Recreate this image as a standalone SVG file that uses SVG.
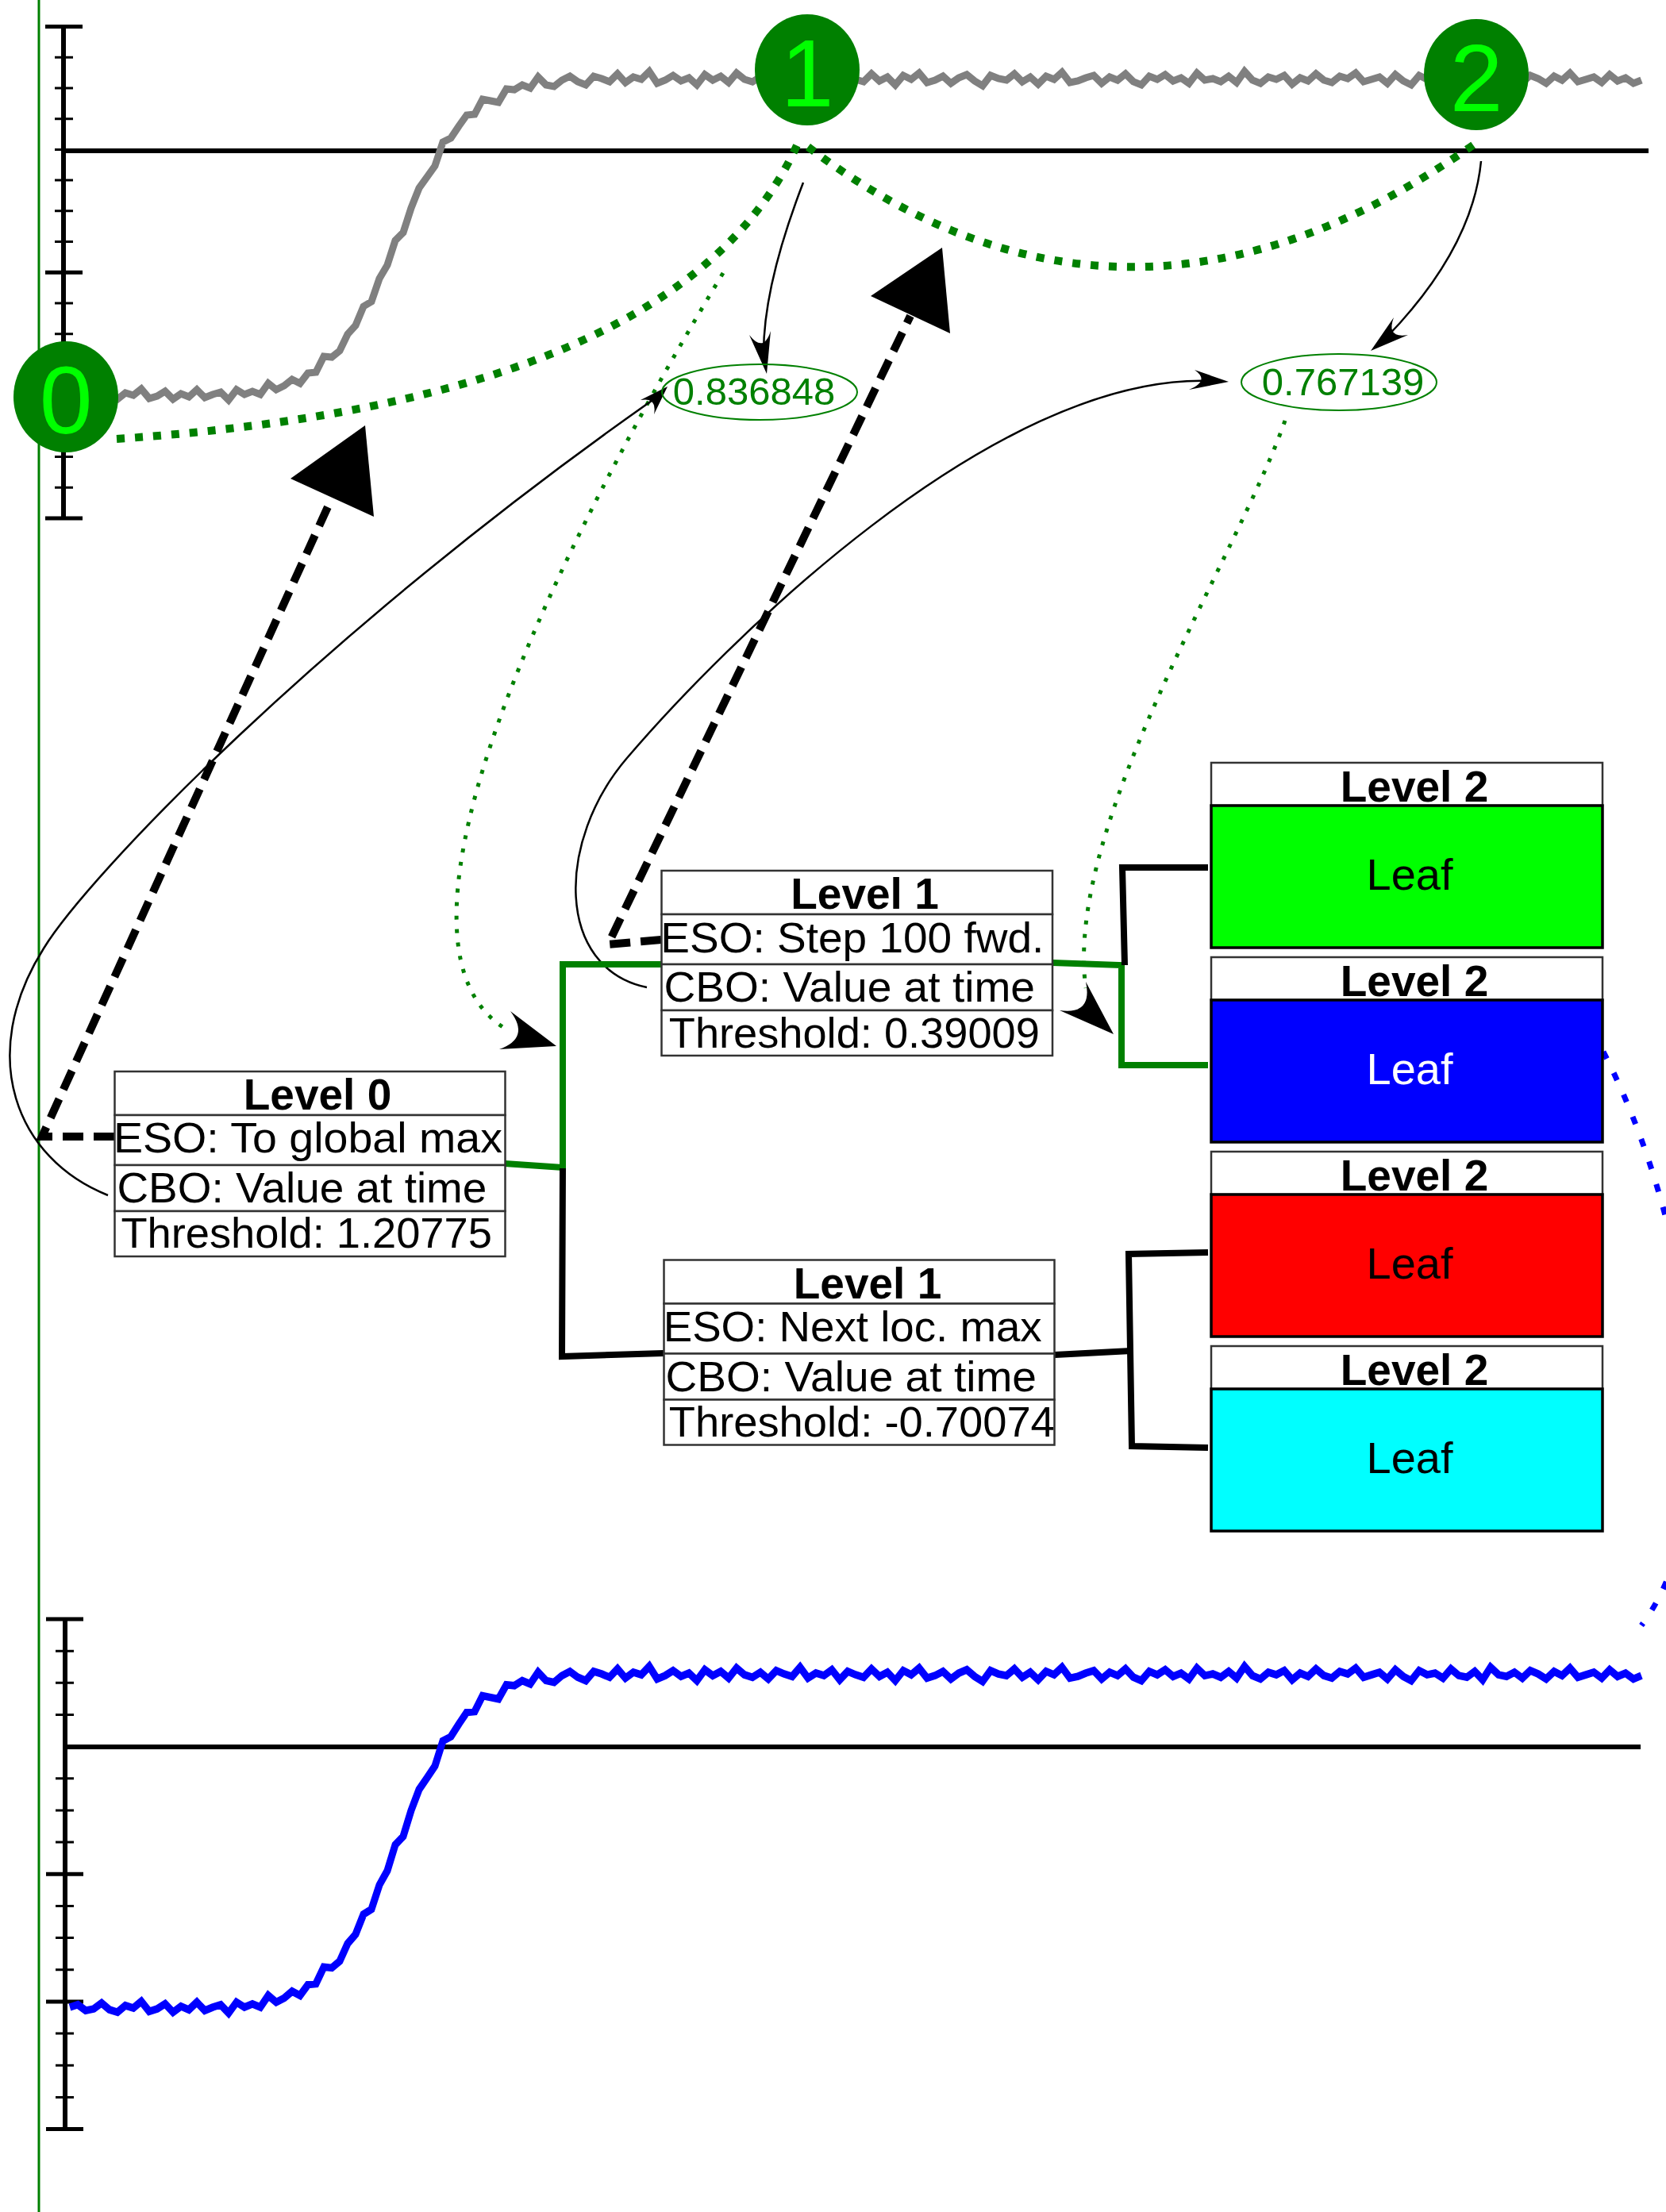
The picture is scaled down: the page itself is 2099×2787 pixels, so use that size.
<svg xmlns="http://www.w3.org/2000/svg" width="2099" height="2787" viewBox="0 0 2099 2787">
<style>
text{font-family:"Liberation Sans",Arial,sans-serif}
.axis{stroke:#000;stroke-width:6;fill:none}
.cap{stroke:#000;stroke-width:5;fill:none}
.tick{stroke:#000;stroke-width:3;fill:none}
.zero{stroke:#000;stroke-width:6}
.sig{fill:none;stroke-width:9}
.num{fill:#008000}
.numt{fill:#00ff00;font-size:120px;text-anchor:middle}
.val{fill:none;stroke:#008000;stroke-width:2}
.valt{fill:#008000;font-size:49px;text-anchor:middle}
.gdash{fill:none;stroke:#008000;stroke-width:10;stroke-dasharray:10 13}
.gdot{fill:none;stroke:#008000;stroke-width:5;stroke-dasharray:5 12}
.bdot{fill:none;stroke:#0000ff;stroke-width:7;stroke-dasharray:10 20}
.thin{fill:none;stroke:#000;stroke-width:2.5}
.head{fill:#000;stroke:none}
.bdash{fill:none;stroke:#000;stroke-width:10;stroke-dasharray:26 13}
.edge{fill:none;stroke:#000;stroke-width:8}
.edgeg{fill:none;stroke:#008000;stroke-width:8}
.row{fill:#fff;stroke:#333;stroke-width:2.5}
.hdr{font-size:55px;font-weight:bold;text-anchor:middle}
.rt{font-size:54px}
.leaf{stroke:#000;stroke-width:3.5}
.lt{font-size:56px;text-anchor:middle}
</style>
<defs>
<path id="signal" d="M88,497 L98,494 108,501 118,499 128,492 138,500 148,503 158,495 168,498 178,490 188,502 198,499 208,493 218,503 228,496 238,500 248,491 258,501 268,497 278,494 288,504 298,491 308,497 318,493 328,497 338,483 348,491 358,486 368,478 378,483 388,470 398,469 408,449 418,450 428,442 438,421 448,410 458,386 468,380 478,351 488,334 498,303 508,293 518,262 528,237 538,223 548,209 558,179 568,174 578,159 588,145 598,144 608,125 618,127 628,129 638,112 648,113 658,107 668,111 678,97 688,107 698,109 708,101 718,96 728,103 738,107 748,96 758,99 768,103 778,93 788,104 798,97 808,100 818,90 828,105 838,101 848,95 858,102 868,98 878,107 888,94 898,101 908,96 918,104 928,92 938,100 948,103 958,97 968,105 978,95 988,99 998,102 1008,91 1018,104 1028,98 1038,101 1048,94 1058,106 1068,96 1078,100 1088,103 1098,93 1108,102 1118,97 1128,107 1138,95 1148,100 1158,92 1168,104 1178,101 1188,96 1198,105 1208,98 1218,94 1228,102 1238,108 1248,95 1258,99 1268,101 1278,93 1288,103 1298,97 1308,106 1318,96 1328,100 1338,91 1348,104 1358,102 1368,98 1378,95 1388,105 1398,97 1408,101 1418,93 1428,103 1438,107 1448,96 1458,100 1468,94 1478,102 1488,98 1498,105 1508,92 1518,101 1528,99 1538,103 1548,96 1558,104 1568,90 1578,101 1588,105 1598,97 1608,100 1618,95 1628,106 1638,98 1648,102 1658,93 1668,101 1678,104 1688,96 1698,99 1708,92 1718,103 1728,100 1738,97 1748,105 1758,94 1768,102 1778,107 1788,95 1798,100 1808,98 1818,104 1828,93 1838,101 1848,103 1858,96 1868,106 1878,91 1888,100 1898,102 1908,97 1918,104 1928,95 1938,99 1948,105 1958,96 1968,101 1978,92 1988,103 1998,100 2008,97 2018,104 2028,94 2038,102 2048,98 2058,105 2068,101"/>
</defs>

<line x1="49" y1="0" x2="49" y2="2787" stroke="#008000" stroke-width="3"/>

<g id="plot-top">
<line class="axis" x1="80" y1="33.5" x2="80" y2="653"/>
<path class="cap" d="M57,33.5H104M57,343.3H104M57,498.1H104M57,653H104"/>
<path class="tick" d="M69,72.2H92M69,110.9H92M69,149.7H92M69,188.4H92M69,227.1H92M69,265.8H92M69,304.5H92M69,382H92M69,420.7H92M69,459.4H92M69,536.9H92M69,575.6H92M69,614.3H92"/>
<line class="zero" x1="80" y1="190" x2="2077" y2="190"/>
<use href="#signal" class="sig" stroke="#808080"/>
</g>

<g id="plot-bottom">
<line class="axis" x1="82" y1="2040" x2="82" y2="2682.5"/>
<path class="cap" d="M58,2040H105M58,2361.3H105M58,2521.9H105M58,2682.5H105"/>
<path class="tick" d="M70,2080.2H93M70,2120.3H93M70,2160.5H93M70,2240.8H93M70,2281H93M70,2321.1H93M70,2401.4H93M70,2441.6H93M70,2481.8H93M70,2562.1H93M70,2602.2H93M70,2642.4H93"/>
<line class="zero" x1="82" y1="2201" x2="2067" y2="2201"/>
<use href="#signal" class="sig" stroke="#0000ff" transform="translate(0,2004.6) scale(1,1.0551)"/>
</g>

<g id="connectors">
<path class="gdash" d="M147,553 Q860,505 1005,181"/>
<path class="gdash" d="M1018,185 Q1420,490 1860,180"/>
<path class="gdot" d="M911,344 C660,760 470,1200 640,1298"/>
<path class="head" d="M701,1318 L643,1274 Q668.5,1308 629,1322 Z"/>
<path class="gdot" d="M1619,530 C1560,700 1340,1040 1368,1245"/>
<path class="head" d="M1403,1303 L1368,1237 Q1377,1279 1335,1273 Z"/>
<path class="thin" d="M1012,230 C985,300 962,380 962,445"/>
<path class="head" d="M966,471 L944,422 Q962,445 971,417 Z"/>
<path class="thin" d="M1866,203 C1858,285 1810,360 1746,426"/>
<path class="head" d="M1727,442 L1756,400 Q1746,426.5 1774,422 Z"/>
<path class="thin" d="M136,1506 C20,1460 -30,1330 55,1195 C110,1105 400,800 828,500"/>
<path class="head" d="M841,487 L807,504 Q828,500 824,522 Z"/>
<path class="thin" d="M815,1244 C700,1220 700,1060 790,955 C907,818 1250,470 1525,480"/>
<path class="head" d="M1548,481 L1505,466 Q1525,480 1498,491 Z"/>
<path class="bdash" d="M144,1432 L53,1432 L416,632"/>
<polygon class="head" points="460,536 366,603 471,651"/>
<path class="bdash" d="M833,1184 L766,1190 L1147,398"/>
<polygon class="head" points="1187,312 1097,373 1197,420"/>
<path class="edgeg" d="M636,1466 L709,1471 L709,1215 L833,1215"/>
<path class="edge" d="M709,1472 L708,1709 L836,1705"/>
<path class="edgeg" d="M1326,1213 L1413,1216 L1413,1342 L1522,1342"/>
<path class="edge" d="M1417,1216 L1414,1093 L1522,1093"/>
<path class="edge" d="M1329,1707 L1425,1702"/>
<path class="edge" d="M1522,1578 L1422,1580 L1426,1822 L1522,1824"/>
<path class="bdot" d="M2020,1325 C2140,1560 2180,1900 2068,2048"/>
</g>

<g id="node-0">
<ellipse class="num" cx="83" cy="500" rx="66" ry="70"/>
<text class="numt" x="83" y="546">0</text>
</g>
<g id="node-1">
<ellipse class="num" cx="1017" cy="88" rx="66" ry="70"/>
<text class="numt" x="1017" y="134">1</text>
</g>
<g id="node-2">
<ellipse class="num" cx="1860" cy="94" rx="66" ry="70"/>
<text class="numt" x="1860" y="140">2</text>
</g>

<g id="node-val-1">
<ellipse class="val" cx="957" cy="494" rx="123" ry="35"/>
<text class="valt" x="950" y="510">0.836848</text>
</g>
<g id="node-val-2">
<ellipse class="val" cx="1687" cy="481.5" rx="123" ry="35.5"/>
<text class="valt" x="1692" y="498">0.767139</text>
</g>

<g id="node-level0">
<rect class="row" x="144.5" y="1350" width="492" height="55"/>
<rect class="row" x="144.5" y="1405" width="492" height="63"/>
<rect class="row" x="144.5" y="1468" width="492" height="58"/>
<rect class="row" x="144.5" y="1526" width="492" height="57"/>
<text class="hdr" x="400" y="1398">Level 0</text>
<text class="rt" x="143" y="1452" textLength="490" lengthAdjust="spacingAndGlyphs">ESO: To global max</text>
<text class="rt" x="147.4" y="1515" textLength="466" lengthAdjust="spacingAndGlyphs">CBO: Value at time</text>
<text class="rt" x="152.4" y="1572" textLength="467.5" lengthAdjust="spacingAndGlyphs">Threshold: 1.20775</text>
</g>

<g id="node-level1-a">
<rect class="row" x="833.5" y="1097" width="492.5" height="55"/>
<rect class="row" x="833.5" y="1152" width="492.5" height="63"/>
<rect class="row" x="833.5" y="1215" width="492.5" height="58"/>
<rect class="row" x="833.5" y="1273" width="492.5" height="57"/>
<text class="hdr" x="1089.5" y="1145">Level 1</text>
<text class="rt" x="832.3" y="1200" textLength="483" lengthAdjust="spacingAndGlyphs">ESO: Step 100 fwd.</text>
<text class="rt" x="836.4" y="1262" textLength="467.6" lengthAdjust="spacingAndGlyphs">CBO: Value at time</text>
<text class="rt" x="842.8" y="1320" textLength="467" lengthAdjust="spacingAndGlyphs">Threshold: 0.39009</text>
</g>

<g id="node-level1-b">
<rect class="row" x="836.5" y="1587.5" width="492" height="55"/>
<rect class="row" x="836.5" y="1642.5" width="492" height="63"/>
<rect class="row" x="836.5" y="1705.5" width="492" height="58"/>
<rect class="row" x="836.5" y="1763.5" width="492" height="57"/>
<text class="hdr" x="1093" y="1636">Level 1</text>
<text class="rt" x="835.7" y="1689.5" textLength="477" lengthAdjust="spacingAndGlyphs">ESO: Next loc. max</text>
<text class="rt" x="838.4" y="1752.5" textLength="467.6" lengthAdjust="spacingAndGlyphs">CBO: Value at time</text>
<text class="rt" x="842.8" y="1809.5" textLength="486" lengthAdjust="spacingAndGlyphs">Threshold: -0.70074</text>
</g>

<g id="node-level2-a">
<rect class="row" x="1526" y="961" width="493" height="54"/>
<rect class="leaf" x="1526" y="1015" width="493" height="179" fill="#00ff00"/>
<text class="hdr" x="1782" y="1010">Level 2</text>
<text class="lt" x="1776" y="1121">Leaf</text>
</g>
<g id="node-level2-b">
<rect class="row" x="1526" y="1206" width="493" height="54"/>
<rect class="leaf" x="1526" y="1260" width="493" height="179" fill="#0000ff"/>
<text class="hdr" x="1782" y="1255">Level 2</text>
<text class="lt" x="1776" y="1366" fill="#fff">Leaf</text>
</g>
<g id="node-level2-c">
<rect class="row" x="1526" y="1451" width="493" height="54"/>
<rect class="leaf" x="1526" y="1505" width="493" height="179" fill="#ff0000"/>
<text class="hdr" x="1782" y="1500">Level 2</text>
<text class="lt" x="1776" y="1611">Leaf</text>
</g>
<g id="node-level2-d">
<rect class="row" x="1526" y="1696" width="493" height="54"/>
<rect class="leaf" x="1526" y="1750" width="493" height="179" fill="#00ffff"/>
<text class="hdr" x="1782" y="1745">Level 2</text>
<text class="lt" x="1776" y="1856">Leaf</text>
</g>
</svg>
